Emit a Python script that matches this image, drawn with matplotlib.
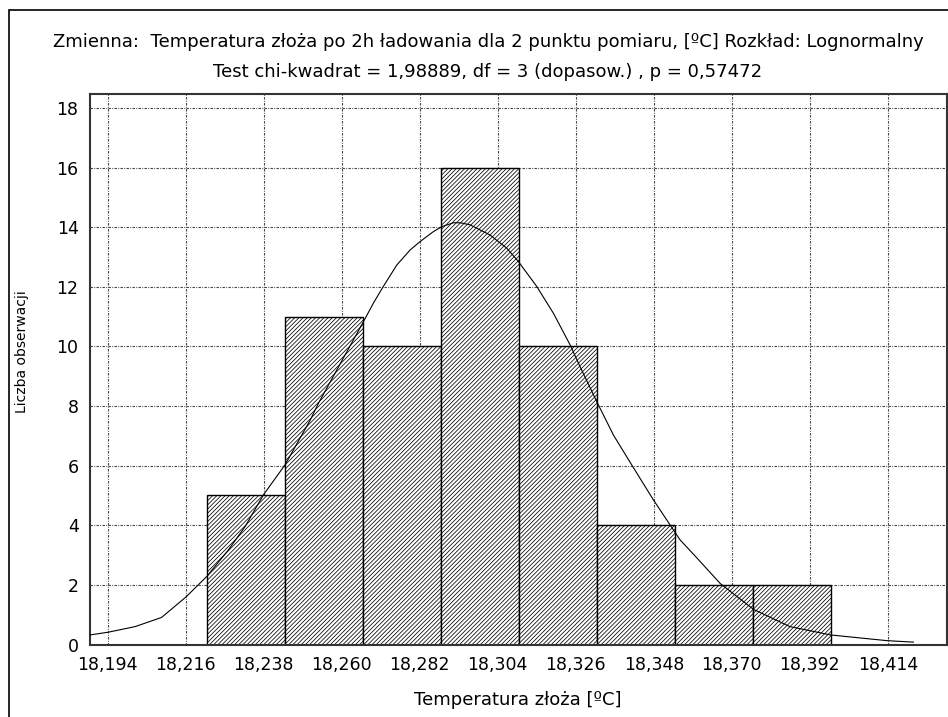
import numpy as np
import matplotlib
matplotlib.use('Agg')
import matplotlib.pyplot as plt
from matplotlib.patches import Rectangle

# Histogram of bed temperature with fitted lognormal curve

bin_edges = [18.222, 18.244, 18.266, 18.288, 18.310, 18.332, 18.354, 18.376, 18.398]
counts = [5, 11, 10, 16, 10, 4, 2, 2]

curve_x = [18.1889, 18.1940, 18.2017, 18.2092, 18.2161, 18.2219, 18.2280, 18.2327,
           18.2379, 18.2440, 18.2511, 18.2534, 18.2661, 18.2689, 18.2717, 18.2755,
           18.2793, 18.2821, 18.2858, 18.2882, 18.2915, 18.2934, 18.2962, 18.3018,
           18.3065, 18.3098, 18.3150, 18.3197, 18.3244, 18.3272, 18.3319, 18.3366,
           18.3418, 18.3479, 18.3526, 18.3554, 18.3598, 18.3667, 18.3761, 18.3864,
           18.3979, 18.4137, 18.4212]
curve_y = [0.32, 0.41, 0.60, 0.91, 1.60, 2.28, 3.17, 3.95,
           5.02, 6.03, 7.53, 8.09, 10.83, 11.45, 12.01, 12.73,
           13.24, 13.52, 13.85, 14.02, 14.15, 14.15, 14.08, 13.74,
           13.30, 12.85, 12.01, 11.11, 10.05, 9.32, 8.15, 7.03,
           6.02, 4.85, 4.01, 3.51, 2.95, 2.05, 1.18, 0.60,
           0.32, 0.13, 0.08]

xticks = [18.194, 18.216, 18.238, 18.260, 18.282, 18.304, 18.326, 18.348, 18.370, 18.392, 18.414]
xtick_labels = ['18,194', '18,216', '18,238', '18,260', '18,282', '18,304',
                '18,326', '18,348', '18,370', '18,392', '18,414']
yticks = [0, 2, 4, 6, 8, 10, 12, 14, 16, 18]

title1 = 'Zmienna:  Temperatura złoża po 2h ładowania dla 2 punktu pomiaru, [ºC] Rozkład: Lognormalny'
title2 = 'Test chi-kwadrat = 1,98889, df = 3 (dopasow.) , p = 0,57472'

plt.rcParams['font.family'] = ['DejaVu Sans']
plt.rcParams['hatch.linewidth'] = 0.55
plt.rcParams['hatch.color'] = '#333333'

fig = plt.figure(figsize=(9.48, 7.17), dpi=100)
ax = fig.add_axes([0.0946, 0.1011, 0.9044, 0.7678])

grid_style = (0, (2.2, 1.2, 0.8, 1.2))
for xt in xticks:
    ax.axvline(xt, color='#444444', lw=0.8, ls=grid_style, zorder=0)
for yt in yticks[1:]:
    ax.axhline(yt, color='#444444', lw=0.8, ls=grid_style, zorder=0)

widths = np.diff(bin_edges)
ax.bar(bin_edges[:-1], counts, width=widths, align='edge', facecolor='white',
       edgecolor='black', linewidth=1.0, hatch='/' * 8, zorder=2)

ax.plot(curve_x, curve_y, color='black', lw=0.8, zorder=3)

ax.set_xlim(18.1889, 18.4307)
ax.set_ylim(0, 18.47)
ax.set_xticks(xticks)
ax.set_xticklabels(xtick_labels, fontsize=12.5)
ax.set_yticks(yticks)
ax.set_yticklabels([str(v) for v in yticks], fontsize=12.5)
ax.tick_params(length=0, pad=8)
for s in ax.spines.values():
    s.set_color('#333333')
    s.set_linewidth(1.5)

fig.text(488 / 948, 1 - 42 / 717, title1, ha='center', va='center', fontsize=13)
fig.text(488 / 948, 1 - 72 / 717, title2, ha='center', va='center', fontsize=13)
fig.text(518 / 948, 1 - 700 / 717, 'Temperatura złoża [ºC]', ha='center', va='center', fontsize=13)
fig.text(22 / 948, 1 - 352 / 717, 'Liczba obserwacji', ha='center', va='center',
         rotation=90, fontsize=10)

# outer frame
fig.patches.append(Rectangle((9 / 948, -0.01), 1.0, 1 - 10 / 717 + 0.01,
                             transform=fig.transFigure, fill=False,
                             edgecolor='black', lw=1.2))

fig.savefig('out.png', dpi=100)
